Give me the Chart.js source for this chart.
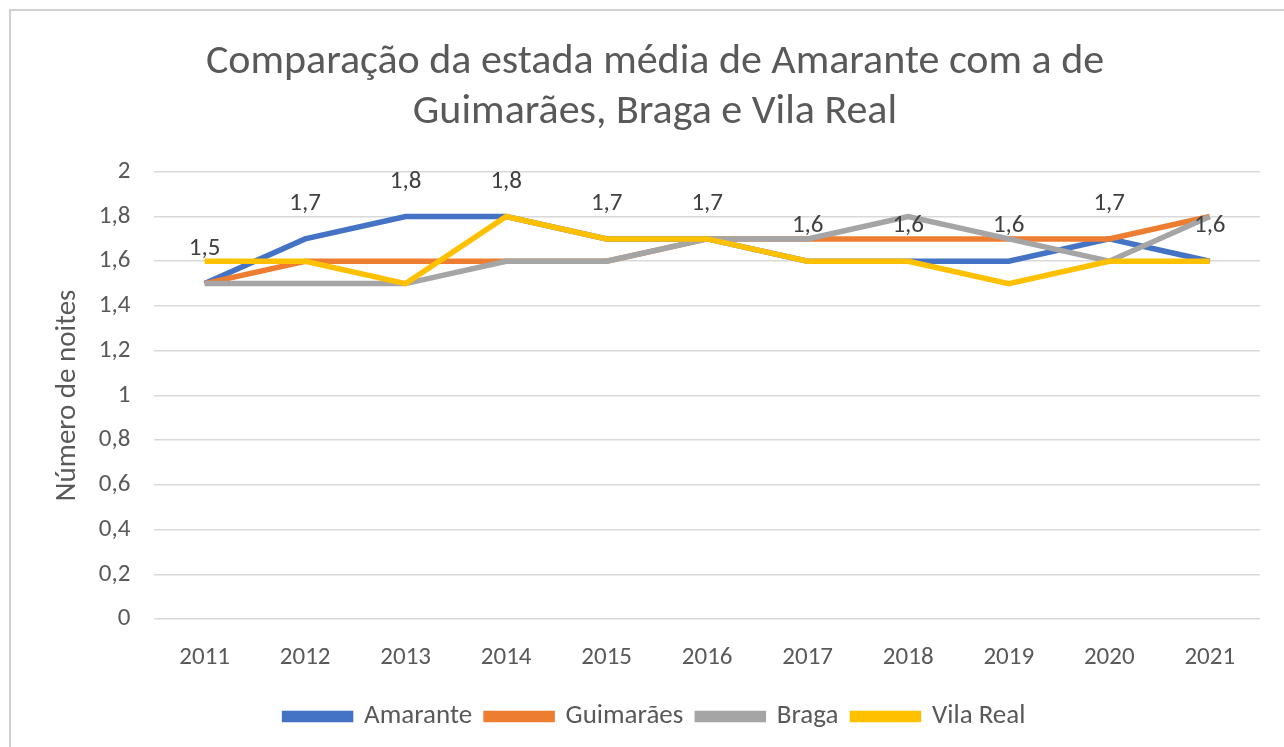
<!DOCTYPE html>
<html>
<head>
<meta charset="utf-8">
<script src="https://cdn.jsdelivr.net/npm/chart.js@4"></script>
<style>
  body { margin: 0; background: #fff; }
  #wrap { position: absolute; left: 0; top: 0; width: 1284px; height: 747px; }
</style>
</head>
<body>
<div id="wrap"><canvas id="myChart" width="1284" height="747"></canvas></div>
<script>
// data
const years = ["2011", "2012", "2013", "2014", "2015", "2016", "2017", "2018", "2019", "2020", "2021"];
const amarante = [1.5, 1.7, 1.8, 1.8, 1.7, 1.7, 1.6, 1.6, 1.6, 1.7, 1.6];
const guimaraes = [1.5, 1.6, 1.6, 1.6, 1.6, 1.7, 1.7, 1.7, 1.7, 1.7, 1.8];
const braga = [1.5, 1.5, 1.5, 1.6, 1.6, 1.7, 1.7, 1.8, 1.7, 1.6, 1.8];
const vilaReal = [1.6, 1.6, 1.5, 1.8, 1.7, 1.7, 1.6, 1.6, 1.5, 1.6, 1.6];

const fontFam = "Carlito, 'Open Sans', sans-serif";
const grey = "#595959";

const fmt = (v) => Number.isInteger(v) ? String(v) : v.toFixed(1).replace(".", ",");

// frame around the chart like the excel chart box
const framePlugin = {
  id: "frame",
  beforeDraw(chart) {
    const c = chart.ctx;
    c.save();
    c.strokeStyle = "#d0d0d0";
    c.lineWidth = 2;
    c.beginPath();
    c.moveTo(10, 747);
    c.lineTo(10, 10);
    c.lineTo(1284, 10);
    c.stroke();
    c.restore();
  },
};

// value labels above the Amarante line
const labelPlugin = {
  id: "valueLabels",
  afterDatasetsDraw(chart) {
    const c = chart.ctx;
    const meta = chart.getDatasetMeta(0);
    c.save();
    c.font = "25px " + fontFam;
    c.fillStyle = "#404040";
    c.textAlign = "center";
    c.textBaseline = "middle";
    meta.data.forEach((pt, i) => {
      c.fillText(fmt(amarante[i]), pt.x, pt.y - 35);
    });
    c.restore();
  },
};

const mk = (label, data, color, order) => ({
  label: label,
  data: data,
  borderColor: color,
  backgroundColor: color,
  borderWidth: 5.5,
  pointRadius: 0,
  tension: 0,
  order: order,
});

const config = {
  type: "line",
  data: {
    labels: years,
    datasets: [
      mk("Amarante", amarante, "#4472C4", 3),
      mk("Guimarães", guimaraes, "#ED7D31", 2),
      mk("Braga", braga, "#A5A5A5", 1),
      mk("Vila Real", vilaReal, "#FFC000", 0),
    ],
  },
  options: {
    responsive: false,
    animation: false,
    layout: { padding: { left: 50, right: 24, top: 0, bottom: 8 } },
    plugins: {
      title: {
        display: true,
        text: ["Comparação da estada média de Amarante com a de", "Guimarães, Braga e Vila Real"],
        color: grey,
        font: { family: fontFam, size: 42, weight: "normal", lineHeight: 1.2 },
        padding: { top: 37, bottom: 34 },
      },
      legend: {
        position: "bottom",
        maxHeight: 50,
        labels: {
          color: grey,
          font: { family: fontFam, size: 27 },
          boxWidth: 66,
          boxHeight: 6,
          padding: 14,
          sort: (a, b) => a.datasetIndex - b.datasetIndex,
        },
      },
      tooltip: { enabled: false },
    },
    scales: {
      x: {
        offset: true,
        grid: { display: false },
        border: { display: false },
        ticks: { color: grey, font: { family: fontFam, size: 25 }, padding: 16 },
      },
      y: {
        min: 0,
        max: 2,
        grid: { color: "#d9d9d9", lineWidth: 1.5, drawTicks: false },
        border: { display: false },
        ticks: {
          stepSize: 0.2,
          color: grey,
          font: { family: fontFam, size: 25 },
          padding: 24,
          callback: (v) => fmt(Math.round(v * 10) / 10),
        },
        title: {
          display: true,
          text: "Número de noites",
          color: grey,
          font: { family: fontFam, size: 29 },
          padding: { top: 0, bottom: -10 },
        },
      },
    },
  },
  plugins: [framePlugin, labelPlugin],
};

const myChart = new Chart(document.getElementById("myChart"), config);
</script>
</body>
</html>
